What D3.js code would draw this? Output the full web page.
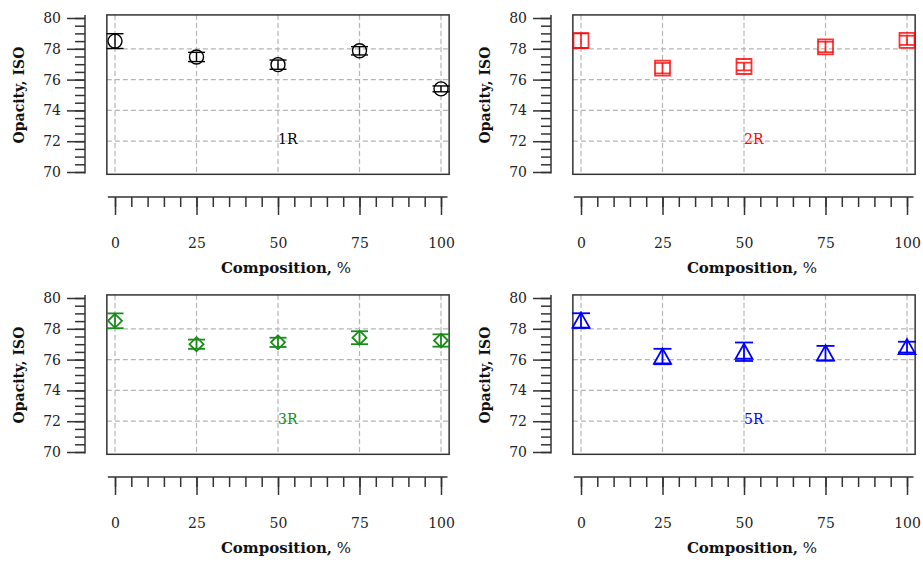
<!DOCTYPE html>
<html><head><meta charset="utf-8">
<script src="https://cdn.jsdelivr.net/npm/d3@7"></script>
<style>body{margin:0;background:#fff} svg{display:block}</style>
</head><body>
<svg id="c" width="923" height="563"></svg>
<script>
// ---- data ----
const compositions = [0, 25, 50, 75, 100];
const seriesNames = ["1R", "2R", "3R", "5R"];
const opacity1R = [78.5, 77.47, 76.97, 77.87, 75.4];
const error1R   = [0.48, 0.3, 0.3, 0.27, 0.19];
const opacity2R = [78.53, 76.74, 76.85, 78.12, 78.55];
const error2R   = [0.47, 0.34, 0.25, 0.34, 0.3];
const opacity3R = [78.52, 77.0, 77.12, 77.42, 77.24];
const error3R   = [0.48, 0.3, 0.3, 0.42, 0.4];
const opacity5R = [78.53, 76.2, 76.51, 76.41, 76.81];
const error5R   = [0.48, 0.5, 0.6, 0.48, 0.35];
const xTicks = [0, 25, 50, 75, 100];
const yTicks = [70, 72, 74, 76, 78, 80];
const xTitle = "Composition,";
const xTitleUnit = " %";
const yTitle = "Opacity, ISO";

// ---- styling / layout ----
const colors = ["#000000", "#ff0000", "#1a8c1a", "#0000ff"];
const markers = ["circle", "square", "diamond", "triangle"];
const allValues = [opacity1R, opacity2R, opacity3R, opacity5R];
const allErrors = [error1R, error2R, error3R, error5R];
const layout = [
  {left: 115, top: 18}, {left: 581, top: 18},
  {left: 115, top: 298}, {left: 581, top: 298}
];
const W = 326, H = 154;
const FONT = "'DejaVu Serif', serif";
const axisColor = "#333";

const svg = d3.select("#c");

function markerPath(type) {
  if (type === "square") return "M-7.5,-7.5H7.5V7.5H-7.5Z";
  if (type === "diamond") return "M0,-7L7,0L0,7L-7,0Z";
  if (type === "triangle") return "M0,-8L8.5,7H-8.5Z";
  return null;
}

seriesNames.forEach((name, i) => {
  const L = layout[i];
  const x = d3.scaleLinear().domain([0, 100]).range([L.left, L.left + W]);
  const y = d3.scaleLinear().domain([70, 80]).range([L.top + H, L.top]);
  const g = svg.append("g");
  const col = colors[i];

  // grid
  const grid = g.append("g").attr("stroke", "#b5b5b5").attr("stroke-width", 1.2)
    .attr("stroke-dasharray", "5,3").attr("fill", "none");
  grid.selectAll("line.v").data(xTicks).join("line")
    .attr("x1", d => x(d)).attr("x2", d => x(d))
    .attr("y1", y(80.2)).attr("y2", y(69.85));
  grid.selectAll("line.h").data(yTicks.filter(d => d > 70 && d < 80)).join("line")
    .attr("class", "h")
    .attr("x1", x(-2.5)).attr("x2", x(102.5))
    .attr("y1", d => y(d)).attr("y2", d => y(d));

  // box
  g.append("rect")
    .attr("x", x(-2.5)).attr("y", y(80.2))
    .attr("width", x(102.5) - x(-2.5)).attr("height", y(69.85) - y(80.2))
    .attr("fill", "none").attr("stroke", axisColor).attr("stroke-width", 1.5);

  // y axis (detached, left)
  const axX = x(0) - 30;
  const yMinor = d3.range(70, 80.01, 0.5);
  const yAx = g.append("g").attr("transform", `translate(${axX},0)`);
  yAx.append("g").call(d3.axisLeft(y).tickValues(yMinor).tickSize(10).tickFormat(""))
    .call(s => s.select(".domain").remove());
  yAx.append("g").call(d3.axisLeft(y).tickValues(yTicks).tickSize(18).tickPadding(6).tickFormat(d3.format("d")))
    .call(s => s.select(".domain").remove());
  yAx.append("line").attr("x1", 0).attr("x2", 0).attr("y1", y(80.2)).attr("y2", y(69.9));
  yAx.selectAll("line").attr("stroke", axisColor).attr("stroke-width", 1.5);
  yAx.selectAll("text").attr("font-family", FONT).attr("font-size", 14).attr("fill", "#222");

  // x axis (detached, below)
  const axY = y(70) + 25;
  const xMinor = d3.range(0, 100.01, 5);
  const xAx = g.append("g").attr("transform", `translate(0,${axY})`);
  xAx.append("g").call(d3.axisBottom(x).tickValues(xMinor).tickSize(10).tickFormat(""))
    .call(s => s.select(".domain").remove());
  xAx.append("g").call(d3.axisBottom(x).tickValues(xTicks).tickSize(18).tickPadding(23).tickFormat(d3.format("d")))
    .call(s => s.select(".domain").remove());
  xAx.append("line").attr("x1", x(-2.2)).attr("x2", x(102)).attr("y1", 0).attr("y2", 0);
  xAx.selectAll("line").attr("stroke", axisColor).attr("stroke-width", 1.5);
  xAx.selectAll("text").attr("font-family", FONT).attr("font-size", 14).attr("fill", "#222");

  // titles
  const xt = g.append("text").attr("x", x(50) + 8).attr("y", axY + 76)
    .attr("text-anchor", "middle").attr("font-family", FONT).attr("font-size", 15)
    .attr("fill", "#111");
  xt.append("tspan").attr("font-weight", "bold").text(xTitle);
  xt.append("tspan").attr("font-weight", "normal").text(xTitleUnit);
  g.append("text").attr("transform", `translate(${axX - 61},${y(75)}) rotate(-90)`)
    .attr("text-anchor", "middle").attr("font-family", FONT).attr("font-size", 14)
    .attr("font-weight", "bold").attr("fill", "#111").text(yTitle);

  // series label
  g.append("text").attr("x", x(50)).attr("y", y(71.8))
    .attr("font-family", FONT).attr("font-size", 14).attr("fill", col).text(name);

  // data
  const pts = compositions.map((c, k) => ({c, v: allValues[i][k], e: allErrors[i][k]}));
  const alpha = i === 1 ? 0.8 : 1;
  const cap = i === 1 ? 7.5 : (i === 3 ? 9 : 8.5);
  const sw = i === 0 ? 1.4 : 1.8;
  const eg = g.append("g").attr("stroke", col).attr("stroke-width", sw).attr("stroke-opacity", alpha).attr("fill", "none");
  pts.forEach(p => {
    const px = x(p.c), y1 = y(p.v + p.e), y2 = y(p.v - p.e);
    eg.append("line").attr("x1", px).attr("x2", px).attr("y1", y1).attr("y2", y2);
    eg.append("line").attr("x1", px - cap).attr("x2", px + cap).attr("y1", y1).attr("y2", y1);
    eg.append("line").attr("x1", px - cap).attr("x2", px + cap).attr("y1", y2).attr("y2", y2);
    if (markers[i] === "circle") {
      eg.append("circle").attr("cx", px).attr("cy", y(p.v)).attr("r", 7);
    } else {
      eg.append("path").attr("d", markerPath(markers[i]))
        .attr("transform", `translate(${px},${y(p.v)})`);
    }
  });
});
</script>
</body></html>
